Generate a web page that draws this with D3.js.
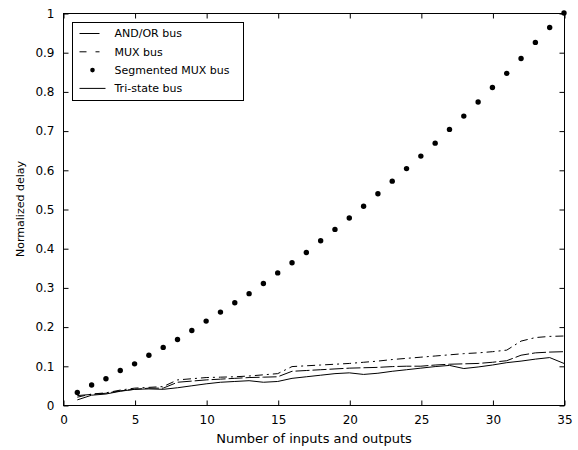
<!DOCTYPE html>
<html>
<head>
<meta charset="utf-8">
<script src="https://cdn.jsdelivr.net/npm/d3@7"></script>
<style>
  html, body { margin: 0; padding: 0; background: #fff; }
  svg text { font-family: "DejaVu Sans", sans-serif; fill: #000; }
</style>
</head>
<body>
<svg id="chart" width="578" height="450"></svg>
<script>
// Number of inputs and outputs
const ioCounts = [1, 2, 3, 4, 5, 6, 7, 8, 9, 10, 11, 12, 13, 14, 15, 16, 17, 18,
                  19, 20, 21, 22, 23, 24, 25, 26, 27, 28, 29, 30, 31, 32, 33, 34, 35];

// Normalized delay per bus architecture
const andOrBus = [0.013, 0.025, 0.028, 0.035, 0.040, 0.041, 0.040, 0.044, 0.049, 0.054,
                  0.058, 0.060, 0.062, 0.058, 0.060, 0.068, 0.072, 0.076, 0.080, 0.082,
                  0.078, 0.081, 0.086, 0.090, 0.094, 0.098, 0.101, 0.093, 0.097, 0.102,
                  0.108, 0.112, 0.117, 0.121, 0.106];
const muxBus = [0.020, 0.028, 0.031, 0.038, 0.043, 0.045, 0.047, 0.064, 0.067, 0.070,
                0.071, 0.072, 0.074, 0.077, 0.080, 0.098, 0.100, 0.102, 0.104, 0.106,
                0.109, 0.112, 0.116, 0.119, 0.122, 0.125, 0.128, 0.131, 0.133, 0.136,
                0.140, 0.163, 0.172, 0.175, 0.176];
const segmentedMuxBus = [0.032, 0.051, 0.067, 0.088, 0.105, 0.127, 0.147, 0.167, 0.190, 0.214,
                         0.237, 0.261, 0.284, 0.310, 0.337, 0.363, 0.389, 0.419, 0.448, 0.477,
                         0.507, 0.539, 0.571, 0.603, 0.635, 0.668, 0.703, 0.737, 0.773, 0.810,
                         0.846, 0.884, 0.925, 0.963, 1.000];
const triStateBus = [0.024, 0.027, 0.030, 0.036, 0.040, 0.043, 0.043, 0.058, 0.061, 0.064,
                     0.066, 0.068, 0.070, 0.071, 0.072, 0.086, 0.088, 0.090, 0.092, 0.094,
                     0.095, 0.096, 0.098, 0.099, 0.099, 0.102, 0.104, 0.105, 0.106, 0.109,
                     0.113, 0.127, 0.133, 0.135, 0.136];

const seriesNames = ["AND/OR bus", "MUX bus", "Segmented MUX bus", "Tri-state bus"];

// Tick labels
const xTicks = [0, 5, 10, 15, 20, 25, 30, 35];
const yTicks = [0, 0.1, 0.2, 0.3, 0.4, 0.5, 0.6, 0.7, 0.8, 0.9, 1];

const xLabel = "Number of inputs and outputs";
const yLabel = "Normalized delay";

// Layout
const plot = { left: 63, top: 13, right: 564, bottom: 405 };
const tickLen = 5;

const svg = d3.select("#chart");

const x = d3.scaleLinear().domain([0, 35]).range([plot.left, plot.right]);
const y = d3.scaleLinear().domain([0, 1]).range([plot.bottom, plot.top]);

// Series drawing styles
const series = [
  { name: seriesNames[0], values: andOrBus, type: "line", dash: null },
  { name: seriesNames[1], values: muxBus, type: "line", dash: "8,4,2,4" },
  { name: seriesNames[2], values: segmentedMuxBus, type: "dots" },
  { name: seriesNames[3], values: triStateBus, type: "line", dash: "14,3" }
];

// Frame
svg.append("rect")
  .attr("x", plot.left + 0.5).attr("y", plot.top + 0.5)
  .attr("width", plot.right - plot.left).attr("height", plot.bottom - plot.top)
  .attr("fill", "#fff").attr("stroke", "#000").attr("stroke-width", 1);

// Axes with inward ticks on all four sides
const fmtY = d => (d === 0 || d === 1) ? String(d) : d.toFixed(1);

const gxB = svg.append("g").attr("transform", `translate(0.5,${plot.bottom + 0.5})`)
  .call(d3.axisBottom(x).tickValues(xTicks).tickSizeInner(-tickLen).tickSizeOuter(0).tickPadding(10).tickFormat(d3.format("d")));
const gxT = svg.append("g").attr("transform", `translate(0.5,${plot.top + 0.5})`)
  .call(d3.axisTop(x).tickValues(xTicks).tickSizeInner(-tickLen).tickSizeOuter(0).tickFormat(""));
const gyL = svg.append("g").attr("transform", `translate(${plot.left + 0.5},0.5)`)
  .call(d3.axisLeft(y).tickValues(yTicks).tickSizeInner(-tickLen).tickSizeOuter(0).tickPadding(9).tickFormat(fmtY));
const gyR = svg.append("g").attr("transform", `translate(${plot.right + 0.5},0.5)`)
  .call(d3.axisRight(y).tickValues(yTicks).tickSizeInner(-tickLen).tickSizeOuter(0).tickFormat(""));

[gxB, gxT, gyL, gyR].forEach(g => {
  g.select(".domain").remove();
  g.selectAll(".tick line").attr("stroke", "#000");
  g.selectAll("text").attr("font-size", 12).attr("font-family", "DejaVu Sans, sans-serif").attr("fill", "#000");
});

// Axis titles
svg.append("text")
  .attr("x", (plot.left + plot.right) / 2 + 0.5).attr("y", 443)
  .attr("text-anchor", "middle").attr("font-size", 13)
  .text(xLabel);
svg.append("text")
  .attr("transform", `translate(24,${(plot.top + plot.bottom) / 2}) rotate(-90)`)
  .attr("text-anchor", "middle").attr("font-size", 11)
  .text(yLabel);

// Data marks
const lineGen = d3.line().x((d, i) => x(ioCounts[i])).y(d => y(d));

series.forEach(s => {
  if (s.type === "line") {
    svg.append("path")
      .datum(s.values)
      .attr("d", lineGen)
      .attr("fill", "none")
      .attr("stroke", "#000")
      .attr("stroke-width", 1)
      .attr("stroke-dasharray", s.dash);
  } else {
    svg.append("g").selectAll("circle")
      .data(s.values)
      .join("circle")
      .attr("cx", (d, i) => x(ioCounts[i]))
      .attr("cy", d => y(d))
      .attr("r", 2.7)
      .attr("fill", "#000");
  }
});

// Legend
const legend = { x: 72, y: 22, w: 171, h: 78, rowGap: 18.3, firstRow: 11 };
const lg = svg.append("g").attr("transform", `translate(${legend.x + 0.5},${legend.y + 0.5})`);
lg.append("rect")
  .attr("width", legend.w).attr("height", legend.h)
  .attr("fill", "#fff").attr("stroke", "#000");

series.forEach((s, i) => {
  const ry = legend.firstRow + i * legend.rowGap;
  if (s.type === "line") {
    lg.append("line")
      .attr("x1", 7).attr("x2", i === 3 ? 33 : 27)
      .attr("y1", ry).attr("y2", ry)
      .attr("stroke", "#000")
      .attr("stroke-dasharray", i === 1 ? "7,9,4" : null);
  } else {
    lg.append("circle").attr("cx", 20).attr("cy", ry).attr("r", 2.3).attr("fill", "#000");
  }
  lg.append("text")
    .attr("x", 42).attr("y", ry)
    .attr("dy", "0.35em")
    .attr("font-size", 11)
    .text(s.name);
});
</script>
</body>
</html>
